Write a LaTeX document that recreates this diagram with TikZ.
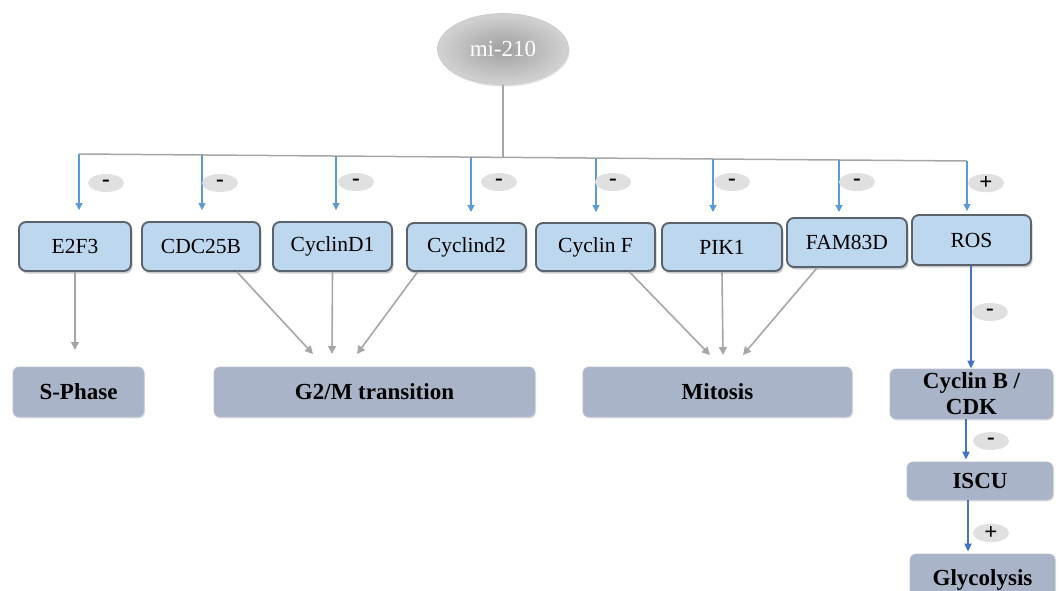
\documentclass[tikz,border=0pt]{standalone}
\usepackage{fontspec}
\setmainfont{Liberation Serif}
\usetikzlibrary{arrows.meta,shadows,shapes.geometric}
\definecolor{topfill}{RGB}{189,215,238}
\definecolor{topedge}{RGB}{90,98,108}
\definecolor{botfill}{RGB}{170,180,200}
\definecolor{blarrow}{RGB}{91,155,213}
\definecolor{dkblue}{RGB}{68,114,196}
\definecolor{grline}{RGB}{166,166,166}
\definecolor{badgefill}{RGB}{224,224,224}
\tikzset{
  topbox/.style={rectangle,rounded corners=7pt,fill=topfill,draw=topedge,line width=1.9pt,
    minimum height=49pt,inner sep=2pt,font=\fontsize{21.5}{25}\selectfont,
    drop shadow={opacity=0.4,shadow xshift=1.5pt,shadow yshift=-2.5pt}},
  botbox/.style={rectangle,rounded corners=6pt,fill=botfill,draw=botfill!85!white,line width=0.8pt,
    minimum height=50pt,inner sep=2pt,font=\fontsize{23}{26}\selectfont\bfseries,
    drop shadow={opacity=0.2,shadow xshift=1pt,shadow yshift=-1.5pt}},
  badge/.style={ellipse,fill=badgefill,minimum width=36pt,minimum height=18pt,inner sep=0pt,
    font=\fontsize{23}{23}\selectfont\bfseries},
  blarr/.style={draw=blarrow,line width=1.1pt,-{Triangle[width=7pt,length=7pt]}},
  dkarr/.style={draw=dkblue,line width=1.8pt,-{Triangle[width=7pt,length=8pt]}},
  grarr/.style={draw=grline,line width=1.6pt,-{Triangle[width=8pt,length=8pt]}},
}
\begin{document}
\begin{tikzpicture}[x=1pt,y=-1pt]
\useasboundingbox (0,0) rectangle (1061,590);
\clip (0,0) rectangle (1061,590);
% root
\node[ellipse,minimum width=131pt,minimum height=71pt,inner sep=0pt,
  inner color={rgb,255:red,160;green,160;blue,160},outer color={rgb,255:red,210;green,210;blue,210},
  draw={rgb,255:red,200;green,200;blue,200},line width=0.6pt,
  text=white,font=\fontsize{23}{25}\selectfont,
  drop shadow={opacity=0.25,shadow xshift=1pt,shadow yshift=-2pt}] (root) at (503,49) {mi-210};
% branch line (slightly tilted)
\coordinate (bL) at (79,154);
\coordinate (bR) at (967,161);
\coordinate (bM) at (503,157.3);
\draw[grline,line width=1.5pt] (root.south) -- (bM);
\draw[grline,line width=1.5pt] (bL) -- (bR);
\coordinate (t1) at (79,154);
\coordinate (t2) at (202,155);
\coordinate (t3) at (336,156);
\coordinate (t4) at (471,157.1);
\coordinate (t5) at (596,158.1);
\coordinate (t6) at (713,159);
\coordinate (t7) at (839,160);
\coordinate (t8) at (967,161);
% top boxes
\node[topbox,minimum width=112pt] (e2f3) at (75,246.5) {E2F3};
\node[topbox,minimum width=118pt] (cdc) at (201,246.5) {CDC25B};
\node[topbox,minimum width=119pt] (cd1) at (332.5,246.5) {CyclinD1};
\node[topbox,minimum width=119pt,minimum height=48pt] (cd2) at (466.5,247) {Cyclind2};
\node[topbox,minimum width=119pt,minimum height=48pt] (cf) at (595.5,247) {Cyclin F};
\node[topbox,minimum width=120pt,minimum height=48pt] (pik) at (722,247) {PIK1};
\node[topbox,minimum width=120pt] (fam) at (847,242.5) {FAM83D};
\node[topbox,minimum width=119pt,minimum height=50pt] (ros) at (971.5,240) {ROS};
% bottom boxes
\node[botbox,minimum width=131pt] (sph) at (78.5,392) {S-Phase};
\node[botbox,minimum width=321pt] (g2m) at (374.5,392) {G2/M transition};
\node[botbox,minimum width=269pt] (mit) at (717.5,392) {Mitosis};
\node[botbox,minimum width=163pt,align=center,font=\fontsize{23}{27}\selectfont\bfseries] (cyb) at (971.5,394) {Cyclin B /\\[-1pt]CDK};
\node[botbox,minimum width=146pt,minimum height=38pt] (iscu) at (980,481) {ISCU};
\node[botbox,minimum width=145pt,minimum height=52pt] (gly) at (982.5,580) {Glycolysis};
% blue arrows from branch line
\draw[blarr,shorten >=11pt] (t1) -- (t1 |- e2f3.north);
\draw[blarr,shorten >=11pt] (t2) -- (t2 |- cdc.north);
\draw[blarr,shorten >=11pt] (t3) -- (t3 |- cd1.north);
\draw[blarr,shorten >=10pt] (t4) -- (t4 |- cd2.north);
\draw[blarr,shorten >=10pt] (t5) -- (t5 |- cf.north);
\draw[blarr,shorten >=10pt] (t6) -- (t6 |- pik.north);
\draw[blarr,shorten >=5pt] (t7) -- (t7 |- fam.north);
\draw[blarr,shorten >=3pt] (t8) -- (t8 |- ros.north);
% badges
\node[badge] (b1) at (106,183) {-};
\node[badge] (b2) at (220,183) {-};
\node[badge] (b3) at (356,182) {-};
\node[badge] (b4) at (499,182) {-};
\node[badge] (b5) at (613,182) {-};
\node[badge] (b6) at (732,182) {-};
\node[badge] (b7) at (857,182) {-};
\node[badge] (b8) at (986,183) {+};
% gray arrows
\coordinate (s1) at (75,350);
\coordinate (g1) at (313,354);
\coordinate (g2) at (332,354);
\coordinate (g3) at (357,354);
\coordinate (m1) at (710,355);
\coordinate (m2) at (723,355);
\coordinate (m3) at (743,355);
\draw[grarr] (e2f3.south) -- (s1);
\draw[grarr] ([xshift=36pt]cdc.south) -- (g1);
\draw[grarr] (cd1.south) -- (g2);
\draw[grarr] ([xshift=-49pt]cd2.south) -- (g3);
\draw[grarr] ([xshift=34pt]cf.south) -- (m1);
\draw[grarr] (pik.south) -- (m2);
\draw[grarr] ([xshift=-30pt]fam.south) -- (m3);
% ROS chain
\draw[dkarr] ([xshift=-0.5pt]ros.south) -- ([xshift=-0.5pt]ros.south |- cyb.north);
\draw[dkarr,shorten >=2pt] ([xshift=-5.5pt]cyb.south) -- ([xshift=-14pt]iscu.north);
\draw[dkarr,shorten >=2pt] ([xshift=-12pt]iscu.south) -- ([xshift=-14.5pt]gly.north);
\node[badge] (b9) at (990,312) {-};
\node[badge] (b10) at (991,441) {-};
\node[badge] (b11) at (991,533) {+};
\end{tikzpicture}
\end{document}
